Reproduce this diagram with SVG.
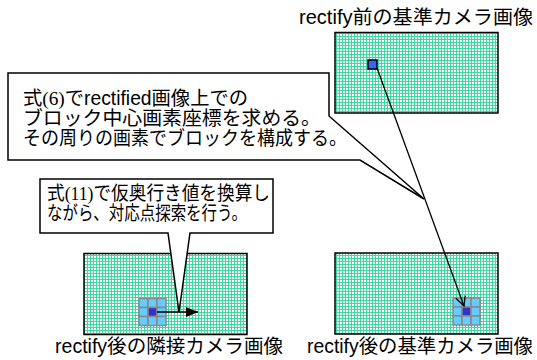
<svg xmlns="http://www.w3.org/2000/svg" width="537" height="360" viewBox="0 0 537 360">
<defs>
<pattern id="grid" width="3" height="3" patternUnits="userSpaceOnUse">
<rect width="3" height="3" fill="#fff"/>
<path d="M0 0.5H3M0.5 0V3" stroke="#3cd9a0" stroke-width="1"/>
</pattern>
<marker id="open" markerWidth="12" markerHeight="12" refX="10" refY="5" orient="auto" markerUnits="userSpaceOnUse">
<path d="M0 0L10 5L0 10" fill="none" stroke="#000" stroke-width="1.3"/>
</marker>
<marker id="solid" markerWidth="14" markerHeight="12" refX="12" refY="5" orient="auto" markerUnits="userSpaceOnUse">
<path d="M0 0L12 5L0 10Z" fill="#000"/>
</marker>
</defs>
<style>
.img{fill:url(#grid);stroke:#000;stroke-width:1.5}
.cell{fill:#66ccff;stroke:#888;stroke-width:1.5}
.ctr{fill:#3333cc;stroke:#888;stroke-width:1.5}
.callout{fill:#fff;stroke:#000;stroke-width:1.5;stroke-linejoin:miter}
.t{font-family:"Liberation Sans","Noto Sans CJK JP",sans-serif;fill:#000}
.lbl{font-size:19.5px}
.ct{font-size:19.5px}
.serif{font-family:"Liberation Serif","Noto Sans CJK JP",serif}
.ln{stroke:#000;stroke-width:1.3;fill:none}
</style>

<g id="top-image">
<rect class="img" x="335" y="32.5" width="163" height="80.5"/>
<rect x="368" y="60" width="9" height="9" fill="#3366ff" stroke="#000" stroke-width="1.5"/>
<text class="t lbl" x="299" y="24" textLength="234" lengthAdjust="spacingAndGlyphs">rectify前の基準カメラ画像</text>
</g>

<g id="bottom-left-image">
<rect class="img" x="84" y="253.5" width="163" height="81"/>
<g>
<rect class="cell" x="139" y="298.5" width="9" height="9"/>
<rect class="cell" x="148" y="298.5" width="9" height="9"/>
<rect class="cell" x="157" y="298.5" width="9" height="9"/>
<rect class="cell" x="139" y="307.5" width="9" height="9"/>
<rect class="ctr" x="148" y="307.5" width="9" height="9"/>
<rect class="cell" x="157" y="307.5" width="9" height="9"/>
<rect class="cell" x="139" y="316.5" width="9" height="9"/>
<rect class="cell" x="148" y="316.5" width="9" height="9"/>
<rect class="cell" x="157" y="316.5" width="9" height="9"/>
</g>
<text class="t lbl" x="55" y="353" textLength="228" lengthAdjust="spacingAndGlyphs">rectify後の隣接カメラ画像</text>
</g>

<g id="bottom-right-image">
<rect class="img" x="335" y="253" width="163" height="81"/>
<g>
<rect class="cell" x="453" y="298" width="9" height="9"/>
<rect class="cell" x="462" y="298" width="9" height="9"/>
<rect class="cell" x="471" y="298" width="9" height="9"/>
<rect class="cell" x="453" y="307" width="9" height="9"/>
<rect class="ctr" x="462" y="307" width="9" height="9"/>
<rect class="cell" x="471" y="307" width="9" height="9"/>
<rect class="cell" x="453" y="316" width="9" height="9"/>
<rect class="cell" x="462" y="316" width="9" height="9"/>
<rect class="cell" x="471" y="316" width="9" height="9"/>
</g>
<text class="t lbl" x="307" y="353" textLength="226" lengthAdjust="spacingAndGlyphs">rectify後の基準カメラ画像</text>
</g>

<g id="callout-1">
<polygon class="callout" points="8,73 329,73 329,116 424,199 360,160 8,160"/>
<text class="t ct" x="23" y="105" textLength="225" lengthAdjust="spacingAndGlyphs">式<tspan class="serif">(6)</tspan>でrectified画像上での</text>
<text class="t ct" x="23" y="125" textLength="298" lengthAdjust="spacingAndGlyphs">ブロック中心画素座標を求める。</text>
<text class="t ct" x="23" y="145" textLength="324" lengthAdjust="spacingAndGlyphs">その周りの画素でブロックを構成する。</text>
</g>

<g id="callout-2">
<polygon class="callout" points="40,179 273,179 273,233 190,233 179,312 168,233 40,233"/>
<text class="t ct" x="47" y="200" textLength="223" lengthAdjust="spacingAndGlyphs">式<tspan class="serif">(11)</tspan>で仮奥行き値を換算し</text>
<text class="t ct" x="47" y="220" textLength="200" lengthAdjust="spacingAndGlyphs">ながら、対応点探索を行う。</text>
</g>

<g id="connectors">
<line class="ln" x1="377" y1="68" x2="464" y2="306" marker-end="url(#open)"/>
<line class="ln" x1="157" y1="312" x2="198" y2="312" marker-end="url(#solid)"/>
</g>
</svg>
